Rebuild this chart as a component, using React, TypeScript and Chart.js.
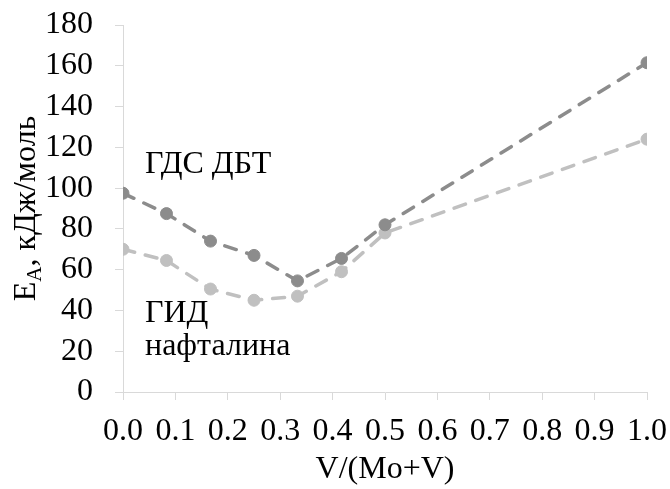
import React, { useEffect, useRef } from "react";
import { Chart, registerables } from "chart.js";

Chart.register(...registerables);

const xValues = [0, 0.083, 0.167, 0.25, 0.333, 0.417, 0.5, 1.0];
const hdsDbt = [97.5, 87.5, 74, 67, 54.5, 65.5, 82, 161.5];
const hydNaphthalene = [70, 64.5, 50.5, 45, 47, 59, 78, 124];

const seriesNames = ["ГДС ДБТ", "ГИД нафталина"];
const xTitle = "V/(Mo+V)";
const yTitleMain = "E";
const yTitleSub = "A";
const yTitleRest = ", кДж/моль";

const DARK = "#8c8c8c";
const LIGHT = "#c0c0c0";
const AXIS = "#d9d9d9";
const FONT = "'Liberation Serif', 'Times New Roman', serif";
const FS = 32;

const labelsPlugin = {
  id: "customLabels",
  afterDraw(chart: any) {
    const ctx = chart.ctx;
    const area = chart.chartArea;
    ctx.save();
    ctx.fillStyle = "#000";
    ctx.textBaseline = "alphabetic";
    ctx.textAlign = "left";
    // annotations
    ctx.font = `${FS}px ${FONT}`;
    ctx.fillText("ГДС ДБТ", 145, 173);
    ctx.fillText("ГИД", 145, 322);
    ctx.fillText("нафталина", 145, 355);

    // y title with subscript
    const cy = (area.top + area.bottom) / 2;
    ctx.translate(35, cy);
    ctx.rotate(-Math.PI / 2);
    const mainFont = `${FS}px ${FONT}`;
    const subFont = `21px ${FONT}`;
    ctx.font = mainFont;
    const wE = ctx.measureText(yTitleMain).width;
    const wRest = ctx.measureText(yTitleRest).width;
    ctx.font = subFont;
    const wA = ctx.measureText(yTitleSub).width;
    const total = wE + wA + wRest;
    let x = -total / 2;
    ctx.font = mainFont;
    ctx.fillText(yTitleMain, x, 0);
    x += wE;
    ctx.font = subFont;
    ctx.fillText(yTitleSub, x, 6);
    x += wA;
    ctx.font = mainFont;
    ctx.fillText(yTitleRest, x, 0);
    ctx.restore();
  },
};

export default function App() {
  const ref = useRef<HTMLCanvasElement | null>(null);
  useEffect(() => {
    if (!ref.current) return;
    const mk = (label: string, ys: number[], color: string) => ({
      label,
      data: xValues.map((x, i) => ({ x, y: ys[i] })),
      borderColor: color,
      backgroundColor: color,
      pointBackgroundColor: color,
      pointBorderColor: color,
      borderWidth: 3.5,
      borderDash: [12, 11],
      borderCapStyle: "round",
      pointRadius: 6,
      pointBorderWidth: 1,
      pointStyle: "circle",
      tension: 0,
      fill: false,
    });
    const chart = new Chart(ref.current, {
      type: "line",
      data: {
        datasets: [mk(seriesNames[0], hdsDbt, DARK), mk(seriesNames[1], hydNaphthalene, LIGHT)],
      },
      options: {
        animation: false,
        responsive: true,
        maintainAspectRatio: false,
        layout: { padding: { top: 25, right: 23, left: 0, bottom: 0 } },
        plugins: { legend: { display: false }, tooltip: { enabled: false } },
        scales: {
          x: {
            type: "linear",
            min: 0,
            max: 1,
            ticks: {
              stepSize: 0.1,
              color: "#000",
              font: { family: FONT, size: FS },
              padding: 12,
              maxRotation: 0,
              autoSkip: false,
              callback: (v: any) => Number(v).toFixed(1),
            },
            grid: { drawOnChartArea: false, drawTicks: true, tickLength: 8, color: AXIS },
            border: { color: AXIS, width: 1 },
            title: {
              display: true,
              text: xTitle,
              color: "#000",
              font: { family: FONT, size: FS },
              padding: { top: 0, bottom: 0 },
            },
            afterFit: (s: any) => {
              s.height = 97;
              s.paddingLeft = 0;
              s.paddingRight = 0;
            },
          },
          y: {
            min: 0,
            max: 180,
            ticks: {
              stepSize: 20,
              color: "#000",
              font: { family: FONT, size: FS },
              padding: 22,
              autoSkip: false,
            },
            grid: { drawOnChartArea: false, drawTicks: true, tickLength: 8, color: AXIS },
            border: { color: AXIS, width: 1 },
            afterFit: (s: any) => {
              s.width = 123;
              s.paddingTop = 0;
              s.paddingBottom = 0;
            },
          },
        },
      },
      plugins: [labelsPlugin],
    } as any);
    return () => chart.destroy();
  }, []);
  return (
    <div style={{ position: "fixed", left: 0, top: 0, width: 670, height: 489, background: "#fff" }}>
      <canvas ref={ref} />
    </div>
  );
}
